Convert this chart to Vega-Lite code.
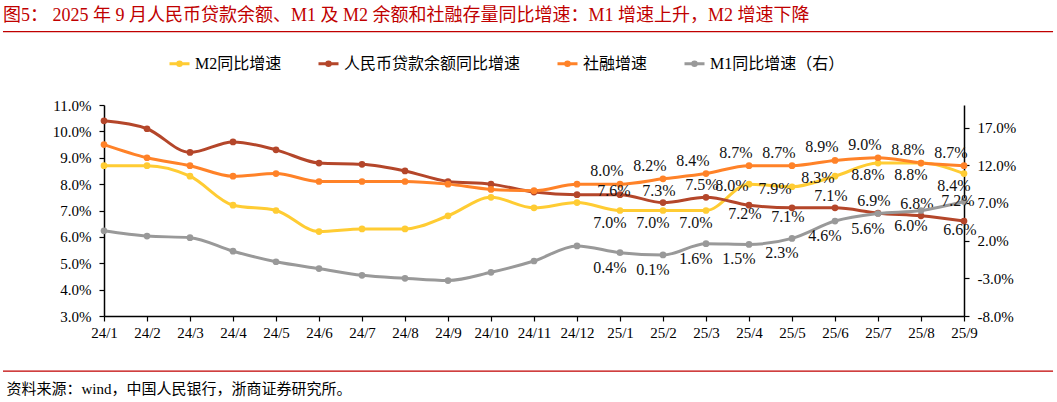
{
  "$schema": "https://vega.github.io/schema/vega-lite/v6.json",
  "width": 860,
  "height": 211,
  "autosize": {"type": "none"},
  "padding": {"left": 104, "top": 105, "right": 93, "bottom": 86},
  "background": "white",
  "title": {
    "text": "图5：  2025 年 9 月人民币贷款余额、M1 及 M2 余额和社融存量同比增速：M1 增速上升，M2 增速下降",
    "anchor": "start",
    "frame": "group",
    "dx": -101,
    "offset": 6,
    "fontSize": 18,
    "fontWeight": "normal",
    "font": "Liberation Serif, Noto Sans CJK SC",
    "color": "#C00000"
  },
  "config": {
    "view": {"stroke": null},
    "font": "Liberation Serif, Noto Sans CJK SC",
    "axis": {
      "grid": false,
      "domainColor": "#000000",
      "domainWidth": 1.5,
      "tickColor": "#000000",
      "tickWidth": 1.2,
      "tickSize": 5,
      "labelFont": "Liberation Serif, Noto Sans CJK SC",
      "labelFontSize": 15,
      "labelColor": "#000000"
    },
    "legend": {
      "labelFont": "Liberation Serif, Noto Sans CJK SC",
      "labelFontSize": 16,
      "labelColor": "#000000",
      "labelLimit": 400
    }
  },
  "data": {
    "values": [
      {"month": "24/1", "series": "M2同比增速", "value": 8.7},
      {"month": "24/2", "series": "M2同比增速", "value": 8.7},
      {"month": "24/3", "series": "M2同比增速", "value": 8.3},
      {"month": "24/4", "series": "M2同比增速", "value": 7.2},
      {"month": "24/5", "series": "M2同比增速", "value": 7.0},
      {"month": "24/6", "series": "M2同比增速", "value": 6.2},
      {"month": "24/7", "series": "M2同比增速", "value": 6.3},
      {"month": "24/8", "series": "M2同比增速", "value": 6.3},
      {"month": "24/9", "series": "M2同比增速", "value": 6.8},
      {"month": "24/10", "series": "M2同比增速", "value": 7.5},
      {"month": "24/11", "series": "M2同比增速", "value": 7.1},
      {"month": "24/12", "series": "M2同比增速", "value": 7.3},
      {"month": "25/1", "series": "M2同比增速", "value": 7.0},
      {"month": "25/2", "series": "M2同比增速", "value": 7.0},
      {"month": "25/3", "series": "M2同比增速", "value": 7.0},
      {"month": "25/4", "series": "M2同比增速", "value": 8.0},
      {"month": "25/5", "series": "M2同比增速", "value": 7.9},
      {"month": "25/6", "series": "M2同比增速", "value": 8.3},
      {"month": "25/7", "series": "M2同比增速", "value": 8.8},
      {"month": "25/8", "series": "M2同比增速", "value": 8.8},
      {"month": "25/9", "series": "M2同比增速", "value": 8.4},
      {"month": "24/1", "series": "人民币贷款余额同比增速", "value": 10.4},
      {"month": "24/2", "series": "人民币贷款余额同比增速", "value": 10.1},
      {"month": "24/3", "series": "人民币贷款余额同比增速", "value": 9.2},
      {"month": "24/4", "series": "人民币贷款余额同比增速", "value": 9.6},
      {"month": "24/5", "series": "人民币贷款余额同比增速", "value": 9.3},
      {"month": "24/6", "series": "人民币贷款余额同比增速", "value": 8.8},
      {"month": "24/7", "series": "人民币贷款余额同比增速", "value": 8.75},
      {"month": "24/8", "series": "人民币贷款余额同比增速", "value": 8.5},
      {"month": "24/9", "series": "人民币贷款余额同比增速", "value": 8.1},
      {"month": "24/10", "series": "人民币贷款余额同比增速", "value": 8.0},
      {"month": "24/11", "series": "人民币贷款余额同比增速", "value": 7.7},
      {"month": "24/12", "series": "人民币贷款余额同比增速", "value": 7.6},
      {"month": "25/1", "series": "人民币贷款余额同比增速", "value": 7.6},
      {"month": "25/2", "series": "人民币贷款余额同比增速", "value": 7.3},
      {"month": "25/3", "series": "人民币贷款余额同比增速", "value": 7.5},
      {"month": "25/4", "series": "人民币贷款余额同比增速", "value": 7.2},
      {"month": "25/5", "series": "人民币贷款余额同比增速", "value": 7.1},
      {"month": "25/6", "series": "人民币贷款余额同比增速", "value": 7.1},
      {"month": "25/7", "series": "人民币贷款余额同比增速", "value": 6.9},
      {"month": "25/8", "series": "人民币贷款余额同比增速", "value": 6.8},
      {"month": "25/9", "series": "人民币贷款余额同比增速", "value": 6.6},
      {"month": "24/1", "series": "社融增速", "value": 9.5},
      {"month": "24/2", "series": "社融增速", "value": 9.0},
      {"month": "24/3", "series": "社融增速", "value": 8.7},
      {"month": "24/4", "series": "社融增速", "value": 8.3},
      {"month": "24/5", "series": "社融增速", "value": 8.4},
      {"month": "24/6", "series": "社融增速", "value": 8.1},
      {"month": "24/7", "series": "社融增速", "value": 8.1},
      {"month": "24/8", "series": "社融增速", "value": 8.1},
      {"month": "24/9", "series": "社融增速", "value": 8.0},
      {"month": "24/10", "series": "社融增速", "value": 7.8},
      {"month": "24/11", "series": "社融增速", "value": 7.75},
      {"month": "24/12", "series": "社融增速", "value": 8.0},
      {"month": "25/1", "series": "社融增速", "value": 8.0},
      {"month": "25/2", "series": "社融增速", "value": 8.2},
      {"month": "25/3", "series": "社融增速", "value": 8.4},
      {"month": "25/4", "series": "社融增速", "value": 8.7},
      {"month": "25/5", "series": "社融增速", "value": 8.7},
      {"month": "25/6", "series": "社融增速", "value": 8.9},
      {"month": "25/7", "series": "社融增速", "value": 9.0},
      {"month": "25/8", "series": "社融增速", "value": 8.8},
      {"month": "25/9", "series": "社融增速", "value": 8.7},
      {"month": "24/1", "series": "M1同比增速（右）", "value": 3.3},
      {"month": "24/2", "series": "M1同比增速（右）", "value": 2.6},
      {"month": "24/3", "series": "M1同比增速（右）", "value": 2.4},
      {"month": "24/4", "series": "M1同比增速（右）", "value": 0.6},
      {"month": "24/5", "series": "M1同比增速（右）", "value": -0.8},
      {"month": "24/6", "series": "M1同比增速（右）", "value": -1.7},
      {"month": "24/7", "series": "M1同比增速（右）", "value": -2.6},
      {"month": "24/8", "series": "M1同比增速（右）", "value": -3.0},
      {"month": "24/9", "series": "M1同比增速（右）", "value": -3.3},
      {"month": "24/10", "series": "M1同比增速（右）", "value": -2.2},
      {"month": "24/11", "series": "M1同比增速（右）", "value": -0.7},
      {"month": "24/12", "series": "M1同比增速（右）", "value": 1.3},
      {"month": "25/1", "series": "M1同比增速（右）", "value": 0.4},
      {"month": "25/2", "series": "M1同比增速（右）", "value": 0.1},
      {"month": "25/3", "series": "M1同比增速（右）", "value": 1.6},
      {"month": "25/4", "series": "M1同比增速（右）", "value": 1.5},
      {"month": "25/5", "series": "M1同比增速（右）", "value": 2.3},
      {"month": "25/6", "series": "M1同比增速（右）", "value": 4.6},
      {"month": "25/7", "series": "M1同比增速（右）", "value": 5.6},
      {"month": "25/8", "series": "M1同比增速（右）", "value": 6.0},
      {"month": "25/9", "series": "M1同比增速（右）", "value": 7.2}
    ]
  },
  "layer": [
    {
      "transform": [{"filter": "datum.series !== 'M1同比增速（右）'"}],
      "encoding": {
        "x": {
          "field": "month",
          "type": "ordinal",
          "sort": ["24/1", "24/2", "24/3", "24/4", "24/5", "24/6", "24/7", "24/8", "24/9", "24/10", "24/11", "24/12", "25/1", "25/2", "25/3", "25/4", "25/5", "25/6", "25/7", "25/8", "25/9"],
          "scale": {"type": "point", "padding": 0},
          "axis": {
            "labelAngle": 0,
            "labelPadding": 4,
            "title": "资料来源：wind，中国人民银行，浙商证券研究所。",
            "titleX": -98,
            "titleY": 72,
            "titleAlign": "left",
            "titleBaseline": "middle",
            "titleFont": "Liberation Serif, Noto Sans CJK SC",
            "titleFontSize": 15,
            "titleFontWeight": "normal",
            "titleColor": "#000000"
          }
        },
        "y": {
          "field": "value",
          "type": "quantitative",
          "scale": {"domain": [3, 11], "nice": false, "zero": false},
          "axis": {
            "orient": "left",
            "title": null,
            "values": [3, 4, 5, 6, 7, 8, 9, 10, 11],
            "labelPadding": 8,
            "labelExpr": "format(datum.value, '.1f') + '%'"
          }
        }
      },
      "layer": [
        {
          "mark": {
            "type": "line",
            "interpolate": "monotone",
            "strokeWidth": 3,
            "point": {"filled": true, "size": 45}
          },
          "encoding": {
            "color": {
              "field": "series",
              "type": "nominal",
              "scale": {
                "domain": ["M2同比增速", "人民币贷款余额同比增速", "社融增速", "M1同比增速（右）"],
                "range": ["#FFCC33", "#B4462A", "#FF8228", "#999999"]
              },
              "legend": {
                "title": null,
                "orient": "none",
                "direction": "horizontal",
                "legendX": 64,
                "legendY": -53,
                "padding": 0,
                "columnPadding": 30,
                "labelOffset": 4,
                "symbolType": "M-1,0L1,0M0.18,0A0.18,0.18,0,1,1,-0.18,0A0.18,0.18,0,1,1,0.18,0Z",
                "symbolSize": 400,
                "symbolStrokeWidth": 3,
                "encode": {"symbols": {"update": {"fill": {"scale": "color", "field": "value"}}}}
              }
            }
          }
        },
        {
          "transform": [
            {"filter": "datum.series === '社融增速' && indexof(datum.month, '25/') === 0"},
            {"calculate": "format(datum.value, '.1f') + '%'", "as": "lbl"}
          ],
          "mark": {"type": "text", "dx": -13, "dy": -13, "fontSize": 16, "color": "#111111"},
          "encoding": {"text": {"field": "lbl"}}
        },
        {
          "transform": [
            {"filter": "datum.series === 'M2同比增速' && indexof(['25/1','25/2','25/3','25/7','25/8','25/9'], datum.month) >= 0"},
            {"calculate": "format(datum.value, '.1f') + '%'", "as": "lbl"}
          ],
          "mark": {"type": "text", "dx": -10, "dy": 12, "fontSize": 16, "color": "#111111"},
          "encoding": {"text": {"field": "lbl"}}
        },
        {
          "transform": [
            {"filter": "datum.series === 'M2同比增速' && indexof(['25/4','25/5','25/6'], datum.month) >= 0"},
            {"calculate": "format(datum.value, '.1f') + '%'", "as": "lbl"}
          ],
          "mark": {"type": "text", "dx": -17, "dy": 2, "fontSize": 16, "color": "#111111"},
          "encoding": {"text": {"field": "lbl"}}
        },
        {
          "transform": [
            {"filter": "datum.series === '人民币贷款余额同比增速' && datum.month === '25/1'"},
            {"calculate": "format(datum.value, '.1f') + '%'", "as": "lbl"}
          ],
          "mark": {"type": "text", "dx": -6, "dy": -4, "fontSize": 16, "color": "#111111"},
          "encoding": {"text": {"field": "lbl"}}
        },
        {
          "transform": [
            {"filter": "datum.series === '人民币贷款余额同比增速' && indexof(['25/2','25/3','25/6','25/7','25/8'], datum.month) >= 0"},
            {"calculate": "format(datum.value, '.1f') + '%'", "as": "lbl"}
          ],
          "mark": {"type": "text", "dx": -4, "dy": -12, "fontSize": 16, "color": "#111111"},
          "encoding": {"text": {"field": "lbl"}}
        },
        {
          "transform": [
            {"filter": "datum.series === '人民币贷款余额同比增速' && indexof(['25/4','25/5','25/9'], datum.month) >= 0"},
            {"calculate": "format(datum.value, '.1f') + '%'", "as": "lbl"}
          ],
          "mark": {"type": "text", "dx": -4, "dy": 9, "fontSize": 16, "color": "#111111"},
          "encoding": {"text": {"field": "lbl"}}
        }
      ]
    },
    {
      "transform": [{"filter": "datum.series === 'M1同比增速（右）'"}],
      "encoding": {
        "x": {
          "field": "month",
          "type": "ordinal",
          "sort": ["24/1", "24/2", "24/3", "24/4", "24/5", "24/6", "24/7", "24/8", "24/9", "24/10", "24/11", "24/12", "25/1", "25/2", "25/3", "25/4", "25/5", "25/6", "25/7", "25/8", "25/9"],
          "scale": {"type": "point", "padding": 0},
          "axis": null
        },
        "y": {
          "field": "value",
          "type": "quantitative",
          "scale": {"domain": [-8, 20], "nice": false, "zero": false},
          "axis": {
            "orient": "right",
            "title": null,
            "values": [-8, -3, 2, 7, 12, 17],
            "labelPadding": 8,
            "labelExpr": "replace(format(datum.value, '.1f'), '−', '-') + '%'"
          }
        }
      },
      "layer": [
        {
          "mark": {
            "type": "line",
            "interpolate": "monotone",
            "strokeWidth": 3,
            "point": {"filled": true, "size": 45}
          },
          "encoding": {
            "color": {
              "field": "series",
              "type": "nominal",
              "scale": {
                "domain": ["M2同比增速", "人民币贷款余额同比增速", "社融增速", "M1同比增速（右）"],
                "range": ["#FFCC33", "#B4462A", "#FF8228", "#999999"]
              }
            }
          }
        },
        {
          "transform": [
            {"filter": "indexof(datum.month, '25/') === 0 && datum.month !== '25/9'"},
            {"calculate": "format(datum.value, '.1f') + '%'", "as": "lbl"}
          ],
          "mark": {"type": "text", "dx": -10, "dy": 15, "fontSize": 16, "color": "#111111"},
          "encoding": {"text": {"field": "lbl"}}
        },
        {
          "transform": [
            {"filter": "datum.month === '25/9'"},
            {"calculate": "format(datum.value, '.1f') + '%'", "as": "lbl"}
          ],
          "mark": {"type": "text", "dx": -6, "dy": 0, "fontSize": 16, "color": "#111111"},
          "encoding": {"text": {"field": "lbl"}}
        }
      ]
    },
    {
      "data": {"values": [{}]},
      "encoding": {
        "x": {"datum": 0, "type": "quantitative", "scale": {"domain": [0.0962, 0.9152], "nice": false, "zero": false}, "axis": null},
        "x2": {"datum": 1}
      },
      "layer": [
        {
          "mark": {"type": "rule", "color": "#C00000", "strokeWidth": 1.3},
          "encoding": {"y": {"datum": 1.348, "type": "quantitative", "scale": {"domain": [0, 1], "nice": false, "zero": false}, "axis": null}}
        },
        {
          "mark": {"type": "rule", "color": "#C00000", "strokeWidth": 1.3},
          "encoding": {"y": {"datum": -0.261, "type": "quantitative"}}
        }
      ]
    }
  ],
  "resolve": {"scale": {"x": "independent", "y": "independent"}}
}
